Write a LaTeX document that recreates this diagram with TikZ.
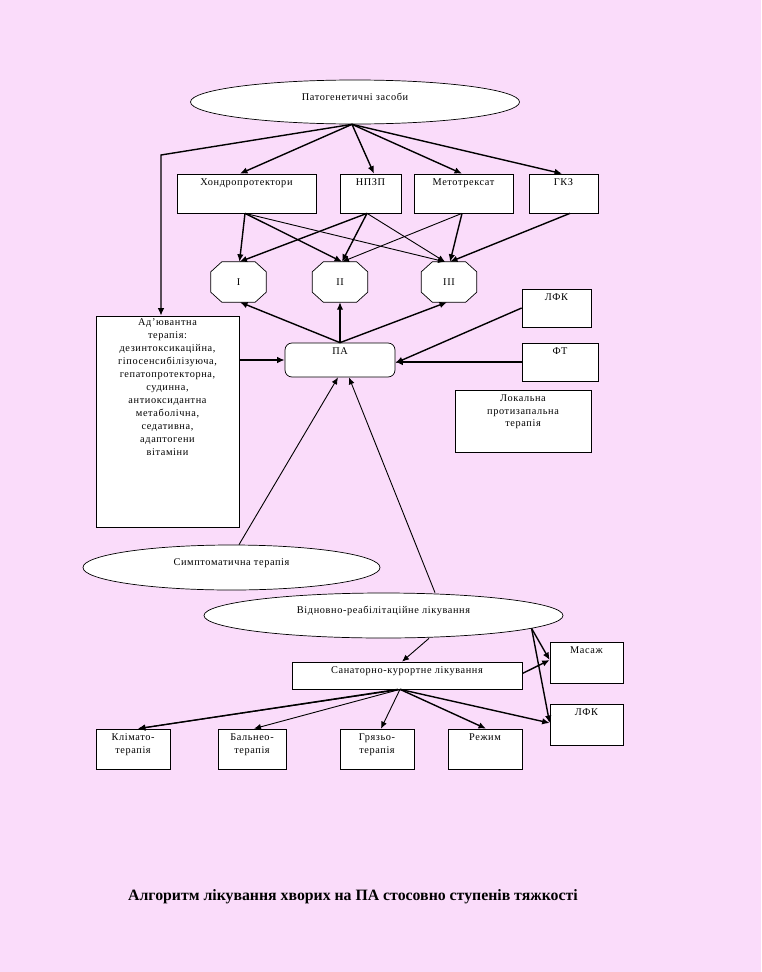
\documentclass[tikz,border=0pt]{standalone}
\usepackage{fontspec}
\setmainfont{Liberation Serif}[LetterSpace=6]
\newfontfamily\titlefont{Liberation Serif}
\usetikzlibrary{shapes.geometric,arrows.meta}
\definecolor{bgpink}{RGB}{250,220,250}
\pgfdeclarelayer{bgzero}
\pgfdeclarelayer{bgone}
\pgfsetlayers{bgzero,bgone,main}
\begin{document}
\begin{tikzpicture}[x=1pt,y=-1pt,
  font=\fontsize{10.3}{12.5}\selectfont,
  box/.style={draw, fill=white, line width=0.7pt, inner sep=0pt},
  lab/.style={label={[anchor=north, inner sep=0pt, yshift=-5pt, align=center]north:#1}},
  oval/.style={draw, fill=white, ellipse, line width=0.7pt, inner sep=0pt},
  oct/.style={inner sep=0pt, minimum width=55pt, minimum height=40pt},
  octline/.style={draw, fill=white, line width=0.7pt},
  arr/.style={-{Latex[length=7.5pt,width=6.5pt]}, line width=1.4pt},
  arrt/.style={-{Latex[length=7pt,width=6pt]}, line width=0.9pt}]
\begin{pgfonlayer}{bgzero}
\fill[bgpink] (0,0) rectangle (761,972);
\end{pgfonlayer}
\useasboundingbox (0,0) rectangle (761,972);

% top ellipse
\node[oval, minimum width=329pt, minimum height=44pt] (pat) at (355,102) {};
\node[anchor=center] (pattxt) at (355,97) {Патогенетичні засоби};

% drug boxes
\node[box, minimum width=139pt, minimum height=39pt, lab={Хондропротектори}] (hondro) at (246.5,193.5) {};
\node[box, minimum width=61pt, minimum height=39pt, lab={НПЗП}] (npzp) at (370.5,193.5) {};
\node[box, minimum width=99pt, minimum height=39pt, lab={Метотрексат}] (meto) at (463.5,193.5) {};
\node[box, minimum width=69pt, minimum height=39pt, lab={ГКЗ}] (gkz) at (563.5,193.5) {};

% octagons
\node[oct] (o1) at (238.5,282) {I};
\node[oct] (o2) at (340,282) {II};
\node[oct] (o3) at (449,282) {III};
\begin{pgfonlayer}{bgone}
\foreach \o in {o1,o2,o3}{
  \draw[octline] ([xshift=11pt]\o.north west) -- ([xshift=-11pt]\o.north east)
    -- ([yshift=-10pt]\o.north east) -- ([yshift=10pt]\o.south east)
    -- ([xshift=-11pt]\o.south east) -- ([xshift=11pt]\o.south west)
    -- ([yshift=10pt]\o.south west) -- ([yshift=-10pt]\o.north west) -- cycle;
}
\end{pgfonlayer}

% PA
\node[box, rounded corners=7pt, minimum width=110pt, minimum height=34pt, lab={ПА}] (pa) at (340,360) {};

% right boxes
\node[box, minimum width=69pt, minimum height=38pt, lab={ЛФК}] (lfka) at (556.5,308) {};
\node[box, minimum width=76pt, minimum height=38pt, lab={ФТ}] (ft) at (560,362) {};
\node[box, minimum width=136pt, minimum height=62pt, lab={Локальна\\протизапальна\\терапія}] (lok) at (523,421) {};

% adjuvant
\node[box, minimum width=143pt, minimum height=211pt, label={[anchor=north, inner sep=0pt, yshift=-3pt, align=center, font=\fontsize{10.3}{13}\selectfont]north:Ад’ювантна\\терапія:\\дезинтоксикаційна,\\гіпосенсибілізуюча,\\гепатопротекторна,\\судинна,\\антиоксидантна\\метаболічна,\\седативна,\\адаптогени\\вітаміни}] (adj) at (167.5,421.5) {};

% lower ellipses
\node[oval, minimum width=297pt, minimum height=45pt] (simpt) at (231.5,567.5) {};
\node (simpttxt) at (231.5,563) {Симптоматична терапія};
\node[oval, minimum width=359pt, minimum height=45pt] (vidn) at (383.5,615.5) {};
\node (vidntxt) at (383.5,611) {Відновно-реабілітаційне лікування};

% sanatorium
\node[box, minimum width=230pt, minimum height=27pt, lab={Санаторно-курортне лікування}] (san) at (407,675.5) {};
\node[box, minimum width=73pt, minimum height=41pt, lab={Масаж}] (mas) at (586.5,662.5) {};
\node[box, minimum width=73pt, minimum height=41pt, lab={ЛФК}] (lfkb) at (586.5,724.5) {};
\node[box, minimum width=74pt, minimum height=40pt, lab={Клімато-\\терапія}] (klim) at (133,749) {};
\node[box, minimum width=68pt, minimum height=40pt, lab={Бальнео-\\терапія}] (baln) at (252,749) {};
\node[box, minimum width=74pt, minimum height=40pt, lab={Грязьо-\\терапія}] (gryaz) at (377,749) {};
\node[box, minimum width=74pt, minimum height=40pt, lab={Режим}] (rezh) at (485,749) {};

% title
\node[font=\titlefont\fontsize{15.8}{18}\selectfont\bfseries] (title) at (353,897) {Алгоритм лікування хворих на ПА стосовно ступенів тяжкості};

% connectors from top ellipse
\coordinate (patsrc) at ([xshift=-3pt]pat.south);
\draw[arr] (patsrc) -- ([xshift=-6.5pt]hondro.north);
\draw[arr] (patsrc) -- ([xshift=3.5pt]npzp.north);
\draw[arr] (patsrc) -- ([xshift=-1.5pt]meto.north);
\draw[arr] (patsrc) -- ([xshift=-1.5pt]gkz.north);
\coordinate (bend) at (161,155);
\draw[arr] (patsrc) -- (bend) -- ([xshift=-6.5pt]adj.north);

% boxes to octagons
\draw[arr] ([xshift=-1.5pt]hondro.south) -- ([xshift=1pt]o1.north);
\draw[arr] ([xshift=-1.5pt]hondro.south) -- ([xshift=2pt]o2.north);
\draw[arrt] ([xshift=-1.5pt]hondro.south) -- ([xshift=-4pt]o3.north);
\draw[arr] ([xshift=-3.5pt]npzp.south) -- ([xshift=1pt]o1.north);
\draw[arr] ([xshift=-3.5pt]npzp.south) -- ([xshift=2pt]o2.north);
\draw[arrt] ([xshift=-3.5pt]npzp.south) -- ([xshift=-4pt]o3.north);
\draw[arrt] ([xshift=-1.5pt]meto.south) -- ([xshift=2pt]o2.north);
\draw[arr] ([xshift=-1.5pt]meto.south) -- ([xshift=1pt]o3.north);
\draw[arr] ([xshift=6.5pt]gkz.south) -- ([xshift=1pt]o3.north);

% PA to octagons
\draw[arr] (pa.north) -- ([xshift=1.5pt]o1.south);
\draw[arr] (pa.north) -- (o2.south);
\draw[arr] (pa.north) -- ([xshift=-2pt]o3.south);

% into PA
\draw[arr] (adj.east |- pa.west) -- (pa.west);
\draw[arr] (lfka.west) -- ([yshift=-3pt]pa.east);
\draw[arr] (ft.west) -- (ft.west -| pa.east);
\draw[arrt] ([xshift=7.5pt]simpt.north) -- ([xshift=-2pt]pa.south);
\draw[arrt] ([xshift=51.5pt]vidn.north) -- ([xshift=9pt]pa.south);

% lower part
\draw[arrt] ([xshift=45.5pt]vidn.south) -- ([xshift=-5pt]san.north);
\coordinate (vsrc) at (vidn.-5.5);
\draw[arr] (vsrc) -- ([yshift=2.5pt]mas.west);
\draw[arr] (vsrc) -- ([yshift=1.5pt]lfkb.west);
\draw[arr] ([yshift=2pt]san.east) -- ([yshift=2.5pt]mas.west);
\draw[arr] ([xshift=-9pt]san.south) -- ([xshift=5pt]klim.north);
\draw[arrt] ([xshift=-5pt]san.south) -- ([xshift=5pt]klim.north);
\draw[arrt] ([xshift=-7pt]san.south) -- ([xshift=2pt]baln.north);
\draw[arrt] ([xshift=-7pt]san.south) -- ([xshift=4pt]gryaz.north);
\draw[arr] ([xshift=-7pt]san.south) -- ([xshift=1pt]rezh.north);
\draw[arr] ([xshift=-7pt]san.south) -- ([yshift=1.5pt]lfkb.west);
\end{tikzpicture}
\end{document}
